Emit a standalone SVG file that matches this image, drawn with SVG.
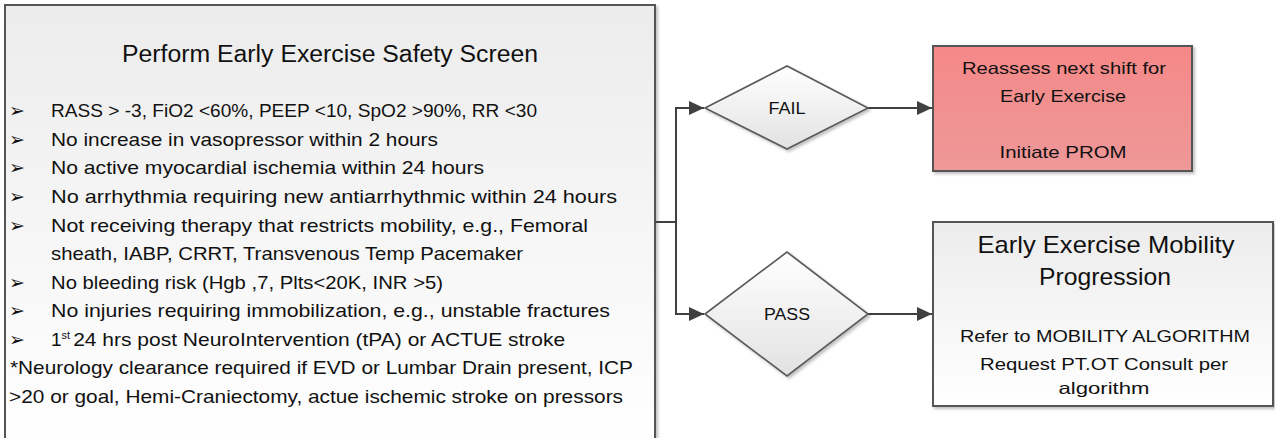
<svg xmlns="http://www.w3.org/2000/svg" width="1275" height="438" viewBox="0 0 1275 438">
  <style>
    .t { font-family: "Liberation Sans", Arial, sans-serif; fill: #111111; }
    .b { font-size: 19px; }
    .bul { font-family: "DejaVu Sans", sans-serif; font-size: 19px; fill: #111111; }
    .box { stroke: #555555; stroke-width: 2; }
    .dia { stroke: #5a5a5a; stroke-width: 1.6; fill: url(#gDia); }
    .conn { fill: none; stroke: #404040; stroke-width: 2; }
  </style>
  <defs>
    <linearGradient id="gGray" x1="0" y1="0" x2="0" y2="1">
      <stop offset="0" stop-color="#ececec"/>
      <stop offset="1" stop-color="#ffffff"/>
    </linearGradient>
    <linearGradient id="gRed" x1="0" y1="0" x2="0" y2="1">
      <stop offset="0" stop-color="#f58888"/>
      <stop offset="1" stop-color="#ee9898"/>
    </linearGradient>
    <linearGradient id="gDia" x1="0" y1="0" x2="0" y2="1">
      <stop offset="0" stop-color="#ffffff"/>
      <stop offset="1" stop-color="#e2e2e2"/>
    </linearGradient>
    <filter id="sh" x="-5%" y="-5%" width="110%" height="110%">
      <feDropShadow dx="2" dy="2" stdDeviation="1.5" flood-color="#000000" flood-opacity="0.25"/>
    </filter>
    <marker id="arr" markerUnits="userSpaceOnUse" markerWidth="16" markerHeight="14" refX="15" refY="7" orient="auto">
      <path d="M0,0 L15,7 L0,14 Z" fill="#404040"/>
    </marker>
  </defs>

  <g id="screen">
    <rect class="box" x="5" y="5" width="650" height="440" fill="url(#gGray)" filter="url(#sh)"/>
    <text class="t" x="330" y="62" font-size="23.5" text-anchor="middle" textLength="416" lengthAdjust="spacingAndGlyphs">Perform Early Exercise Safety Screen</text>
    <text class="bul" x="9" y="117">➢</text>
    <text class="t b" x="51" y="117" textLength="486" lengthAdjust="spacingAndGlyphs">RASS &gt; -3, FiO2 &lt;60%, PEEP &lt;10, SpO2 &gt;90%, RR &lt;30</text>
    <text class="bul" x="9" y="146">➢</text>
    <text class="t b" x="51" y="146" textLength="387" lengthAdjust="spacingAndGlyphs">No increase in vasopressor within 2 hours</text>
    <text class="bul" x="9" y="174">➢</text>
    <text class="t b" x="51" y="174" textLength="433" lengthAdjust="spacingAndGlyphs">No active myocardial ischemia within 24 hours</text>
    <text class="bul" x="9" y="203">➢</text>
    <text class="t b" x="51" y="203" textLength="566" lengthAdjust="spacingAndGlyphs">No arrhythmia requiring new antiarrhythmic within 24 hours</text>
    <text class="bul" x="9" y="232">➢</text>
    <text class="t b" x="51" y="232" textLength="537" lengthAdjust="spacingAndGlyphs">Not receiving therapy that restricts mobility, e.g., Femoral</text>
    <text class="t b" x="51" y="260" textLength="472" lengthAdjust="spacingAndGlyphs">sheath, IABP, CRRT, Transvenous Temp Pacemaker</text>
    <text class="bul" x="9" y="289">➢</text>
    <text class="t b" x="51" y="289" textLength="392" lengthAdjust="spacingAndGlyphs">No bleeding risk (Hgb ,7, Plts&lt;20K, INR &gt;5)</text>
    <text class="bul" x="9" y="317">➢</text>
    <text class="t b" x="51" y="317" textLength="559" lengthAdjust="spacingAndGlyphs">No injuries requiring immobilization, e.g., unstable fractures</text>
    <text class="bul" x="9" y="346">➢</text>
    <text class="t b" x="51" y="346">1<tspan font-size="11" dy="-7">st</tspan><tspan dy="7" dx="3" textLength="492" lengthAdjust="spacingAndGlyphs">24 hrs post NeuroIntervention (tPA) or ACTUE stroke</tspan></text>
    <text class="t b" x="10" y="374" textLength="623" lengthAdjust="spacingAndGlyphs">*Neurology clearance required if EVD or Lumbar Drain present, ICP</text>
    <text class="t b" x="9" y="403" textLength="614" lengthAdjust="spacingAndGlyphs">&gt;20 or goal, Hemi-Craniectomy, actue ischemic stroke on pressors</text>
  </g>

  <g id="connectors">
    <path class="conn" d="M655,222 H676 V108 H704" marker-end="url(#arr)"/>
    <path class="conn" d="M676,222 V314 H704" marker-end="url(#arr)"/>
    <path class="conn" d="M868,108 H932" marker-end="url(#arr)"/>
    <path class="conn" d="M868,314 H932" marker-end="url(#arr)"/>
  </g>

  <g id="fail">
    <polygon class="dia" points="705,108 787,66 868,108 787,149" filter="url(#sh)"/>
    <text class="t" x="787" y="114" font-size="16" text-anchor="middle" textLength="37" lengthAdjust="spacingAndGlyphs">FAIL</text>
  </g>

  <g id="pass">
    <polygon class="dia" points="705,314 787,252 868,314 787,376" filter="url(#sh)"/>
    <text class="t" x="787" y="320" font-size="16" text-anchor="middle" textLength="46" lengthAdjust="spacingAndGlyphs">PASS</text>
  </g>

  <g id="reassess">
    <rect class="box" x="933" y="46" width="259" height="125" fill="url(#gRed)" filter="url(#sh)"/>
    <text class="t" x="1064" y="74" font-size="16.5" text-anchor="middle" textLength="204" lengthAdjust="spacingAndGlyphs">Reassess next shift for</text>
    <text class="t" x="1063" y="102" font-size="16.5" text-anchor="middle" textLength="126" lengthAdjust="spacingAndGlyphs">Early Exercise</text>
    <text class="t" x="1063" y="158" font-size="16.5" text-anchor="middle" textLength="127" lengthAdjust="spacingAndGlyphs">Initiate PROM</text>
  </g>

  <g id="mobility">
    <rect class="box" x="933" y="222" width="340" height="184" fill="url(#gGray)" filter="url(#sh)"/>
    <text class="t" x="1106" y="253" font-size="24" text-anchor="middle" textLength="257" lengthAdjust="spacingAndGlyphs">Early Exercise Mobility</text>
    <text class="t" x="1105" y="285" font-size="24" text-anchor="middle" textLength="132" lengthAdjust="spacingAndGlyphs">Progression</text>
    <text class="t" x="1105" y="342" font-size="16.5" text-anchor="middle" textLength="290" lengthAdjust="spacingAndGlyphs">Refer to MOBILITY ALGORITHM</text>
    <text class="t" x="1104" y="370" font-size="16.5" text-anchor="middle" textLength="248" lengthAdjust="spacingAndGlyphs">Request PT.OT Consult per</text>
    <text class="t" x="1104" y="394" font-size="16.5" text-anchor="middle" textLength="91" lengthAdjust="spacingAndGlyphs">algorithm</text>
  </g>
</svg>
